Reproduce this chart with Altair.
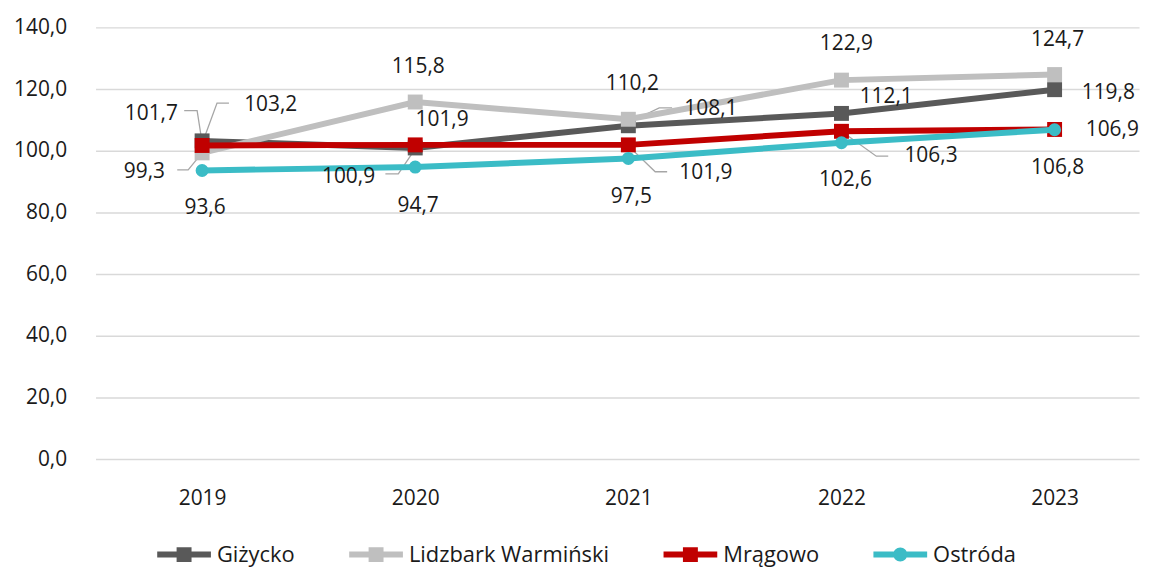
import altair as alt
import pandas as pd

# ---------------- data ----------------
years = [2019, 2020, 2021, 2022, 2023]
series = ["Giżycko", "Lidzbark Warmiński", "Mrągowo", "Ostróda"]
gizycko = [103.2, 100.9, 108.1, 112.1, 119.8]
lidzbark = [99.3, 115.8, 110.2, 122.9, 124.7]
mragowo = [101.7, 101.9, 101.9, 106.3, 106.9]
ostroda = [93.6, 94.7, 97.5, 102.6, 106.8]
values = [gizycko, lidzbark, mragowo, ostroda]
y_ticks = [0, 20, 40, 60, 80, 100, 120, 140]

# ---------------- styles ----------------
colors = ["#595959", "#BFBFBF", "#C00000", "#3BBCC6"]
marker_shapes = ["square", "square", "square", "circle"]
marker_sizes = [225, 225, 225, 170]
FONT = "Open Sans"
TXT = "#1a1a1a"

# label placement: pixel offsets (dx, dy) from each point
label_offsets = {
    "Giżycko": [(69, -36), (-67, 29), (83, -17), (45, -16), (54, 3)],
    "Lidzbark Warmiński": [(-58, 19), (3, -35), (4, -35), (5, -36), (3, -35)],
    "Mrągowo": [(-51, -32), (27, -25), (78, 28), (90, 25), (58, 1)],
    "Ostróda": [(3, 38), (3, 39), (3, 39), (4, 38), (3, 38)],
}
# leader lines: pixel offsets from the point
leaders = [
    ("Mrągowo", 2019, [(0, -3), (-5, -35), (-18, -35)]),
    ("Giżycko", 2019, [(0, 3), (15, -38), (27, -38)]),
    ("Lidzbark Warmiński", 2019, [(0, 0), (-14, 17), (-25, 17)]),
    ("Giżycko", 2020, [(0, 1), (-17, 26), (-30, 26)]),
    ("Giżycko", 2021, [(0, -3), (31, -18), (44, -18)]),
    ("Mrągowo", 2021, [(0, 1), (27, 27), (39, 27)]),
    ("Mrągowo", 2022, [(0, 0), (35, 25), (47, 25)]),
]

W, H = 1049, 434
STEP = 214.25
XMIN = 2018.5
XMAX = XMIN + W / STEP
YMAX = 140
PPX = STEP            # pixels per year
PPY = H / YMAX        # pixels per unit

rows = []
for s, vals in zip(series, values):
    for i, (yr, v) in enumerate(zip(years, vals)):
        dx, dy = label_offsets[s][i]
        rows.append({"series": s, "year": yr, "value": v,
                     "lx": yr + dx / PPX, "ly": v - dy / PPY})
df = pd.DataFrame(rows)

lead_rows = []
for k, (s, yr, pts) in enumerate(leaders):
    v = values[series.index(s)][years.index(yr)]
    for j, (dx, dy) in enumerate(pts):
        lead_rows.append({"id": k, "ord": j, "x": yr + dx / PPX, "y": v - dy / PPY})
lead_df = pd.DataFrame(lead_rows)

x_scale = alt.Scale(domain=[XMIN, XMAX], nice=False, zero=False)
y_scale = alt.Scale(domain=[0, YMAX], nice=False, zero=True)
x_axis = alt.Axis(values=years, format="d", title=None, domain=False, ticks=False,
                  tickSize=0, grid=False, labelPadding=29)
y_axis = alt.Axis(values=y_ticks, title=None, domain=False, ticks=False, tickSize=0,
                  grid=True, gridColor="#D9D9D9", gridWidth=1.5, labelPadding=29,
                  labelExpr="replace(format(datum.value, '.1f'), '.', ',')")

layers = []
# leader lines (drawn first)
layers.append(
    alt.Chart(lead_df).mark_line(color="#A6A6A6", strokeWidth=1.3).encode(
        x=alt.X("x:Q", scale=x_scale, axis=x_axis),
        y=alt.Y("y:Q", scale=y_scale, axis=y_axis),
        detail="id:N", order="ord:Q")
)

for i, s in enumerate(series):
    d = df[df["series"] == s]
    base = alt.Chart(d).encode(
        x=alt.X("year:Q", scale=x_scale, axis=x_axis),
        y=alt.Y("value:Q", scale=y_scale, axis=y_axis))
    layers.append(base.mark_line(color=colors[i], strokeWidth=6))
    layers.append(base.mark_point(shape=marker_shapes[i], filled=True, size=marker_sizes[i],
                                  color=colors[i], opacity=1))

# data labels
layers.append(
    alt.Chart(df).transform_calculate(
        txt="replace(format(datum.value, '.1f'), '.', ',')"
    ).mark_text(font=FONT, fontSize=21, color=TXT, align="center", baseline="middle").encode(
        x=alt.X("lx:Q", scale=x_scale, axis=x_axis),
        y=alt.Y("ly:Q", scale=y_scale, axis=y_axis),
        text="txt:N")
)

# legend carrier (invisible marks)
sq = "M-1,-0.111H1V0.111H-1Z M-0.278,-0.278H0.278V0.278H-0.278Z"
ci = "M-1,-0.111H1V0.111H-1Z M-0.26,0 A0.26,0.26 0 1,1 0.26,0 A0.26,0.26 0 1,1 -0.26,0 Z"
legend_paths = [sq, sq, sq, ci]
leg = alt.Legend(title=None, orient="none", legendX=62, legendY=503, direction="horizontal",
                 columns=4, columnPadding=54, labelFont=FONT, labelFontSize=22, labelColor=TXT,
                 labelOffset=6, labelLimit=0, symbolSize=2916, symbolStrokeWidth=0,
                 symbolOpacity=1)
layers.append(
    alt.Chart(df).mark_point(filled=True, opacity=0).encode(
        x=alt.X("year:Q", scale=x_scale, axis=x_axis),
        y=alt.Y("value:Q", scale=y_scale, axis=y_axis),
        color=alt.Color("series:N", scale=alt.Scale(domain=series, range=colors), legend=leg),
        shape=alt.Shape("series:N", scale=alt.Scale(domain=series, range=legend_paths), legend=leg))
)

chart = alt.layer(*layers).properties(
    width=W, height=H,
    padding={"left": 88, "top": 18, "right": 6, "bottom": 110},
    autosize=alt.AutoSizeParams(type="none"),
).configure_view(stroke=None).configure_axis(
    labelFont=FONT, labelFontSize=21, labelColor=TXT
)

chart.save("out.html", embed_options={"renderer": "svg", "actions": False})
